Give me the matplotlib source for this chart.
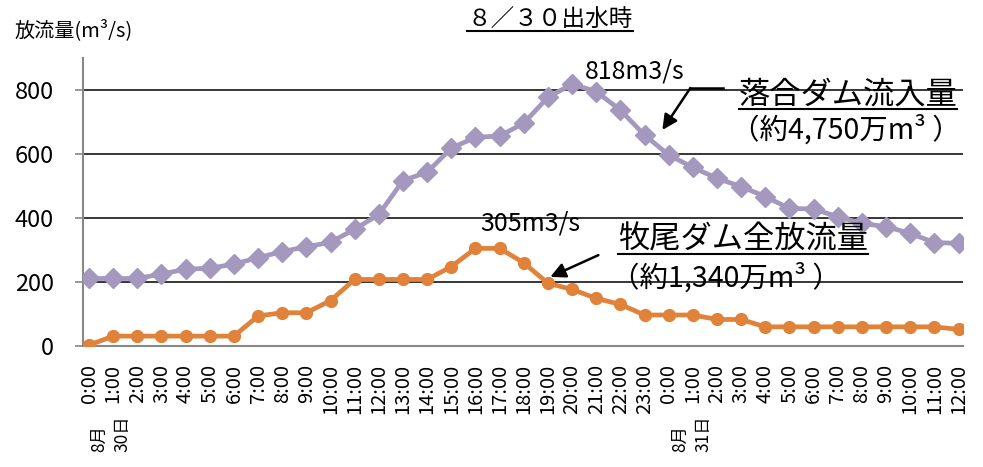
import numpy as np
import matplotlib
matplotlib.use("Agg")
import matplotlib.pyplot as plt
from matplotlib.lines import Line2D

plt.rcParams['font.family'] = ['Noto Sans CJK JP', 'DejaVu Sans']

# hourly times from 8/30 0:00 to 8/31 12:00
hours = [f"{h}:00" for h in range(24)] + [f"{h}:00" for h in range(13)]

# 落合ダム流入量 (m3/s)
inflow = [211, 211, 211, 225, 240, 243, 256, 276, 295, 310, 324, 365, 411,
          517, 543, 618, 652, 656, 696, 777, 818, 795, 737, 659, 597, 558,
          524, 498, 467, 430, 428, 404, 383, 373, 352, 323, 321]

# 牧尾ダム全放流量 (m3/s)
outflow = [3, 31, 31, 31, 31, 31, 31, 94, 104, 104, 142, 208, 208, 208, 208,
           248, 305, 305, 260, 196, 177, 149, 130, 97, 97, 97, 83, 83, 60,
           60, 60, 60, 60, 60, 60, 60, 52]

date_labels = {0.9: "8月\n30日", 24.95: "8月\n31日"}

purple = "#A498BF"
orange = "#E0823A"

fig = plt.figure(figsize=(9.83, 4.67), dpi=100)
ax = fig.add_axes([0.0844, 0.259, 0.8956, 0.617])

x = np.arange(len(hours))
ax.plot(x, inflow, color=purple, lw=3.4, marker="D", ms=10.5, zorder=3)
ax.plot(x, outflow, color=orange, lw=3.4, marker="o", ms=8.5, zorder=3)

ax.set_xlim(-0.25, 36.2)
ax.set_ylim(0, 900)
ax.set_yticks([0, 200, 400, 600, 800])
ax.grid(axis="y", color="black", lw=1.1, zorder=1)
ax.set_axisbelow(True)
ax.set_xticks(x)
ax.set_xticklabels(hours, rotation=90, fontsize=14.5)
ax.tick_params(axis="x", length=0, pad=13)
ax.tick_params(axis="y", length=6, width=1.2, color="#888888", pad=15, labelsize=17)
for side in ("top", "right"):
    ax.spines[side].set_visible(False)
for side in ("left", "bottom"):
    ax.spines[side].set_color("#888888")
    ax.spines[side].set_linewidth(1.5)

for xd, lab in date_labels.items():
    ax.text(xd, -0.368, lab, transform=ax.get_xaxis_transform(), rotation=90,
            ha="center", va="bottom", multialignment="left", fontsize=12.5,
            linespacing=1.4)

# peak labels
ax.text(20.55, 856, "818m3/s", fontsize=18, va="center", ha="left")
ax.text(16.2, 384, "305m3/s", fontsize=18, va="center", ha="left")

# series labels with arrows
t1 = ax.text(26.9, 787, "落合ダム流入量", fontsize=22.5, va="center", ha="left")
ax.text(26.6, 675, "（約4,750万m³ ）", fontsize=20.5, va="center", ha="left")
t2 = ax.text(21.9, 334, "牧尾ダム全放流量", fontsize=22.5, va="center", ha="left")
ax.text(21.6, 212, "（約1,340万m³ ）", fontsize=20.5, va="center", ha="left")

ax.plot([24.9, 26.26], [806, 806], color="black", lw=1.8, zorder=4)
ax.annotate("", xy=(23.74, 675), xytext=(24.9, 806),
            arrowprops=dict(arrowstyle="-|>,head_length=0.9,head_width=0.45",
                            color="black", lw=1.8, shrinkA=0, shrinkB=0))
ax.annotate("", xy=(19.1, 216), xytext=(21.09, 284),
            arrowprops=dict(arrowstyle="-|>,head_length=0.9,head_width=0.45",
                            color="black", lw=1.8, shrinkA=0, shrinkB=0))

title = fig.text(0.5595, 0.957, "８／３０出水時", fontsize=17, ha="center", va="center")
fig.text(0.015, 0.936, "放流量(m³/s)", fontsize=14.5, ha="left", va="center")

# underline title and series labels
fig.canvas.draw()
W, H = fig.bbox.width, fig.bbox.height
for t, off in ((title, 1), (t1, 1), (t2, 1)):
    bb = t.get_window_extent()
    yy = (bb.y0 + off) / H
    fig.add_artist(Line2D([bb.x0 / W, bb.x1 / W], [yy, yy], color="black", lw=1.5))

fig.savefig("out.png", dpi=100)
